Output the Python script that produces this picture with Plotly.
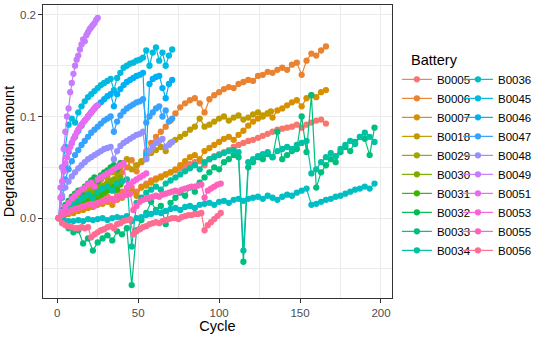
import plotly.graph_objects as go

# ---------------- data ----------------
batteries = ["B0005", "B0006", "B0007", "B0018", "B0029", "B0030", "B0031", "B0032",
             "B0033", "B0034", "B0036", "B0045", "B0046", "B0047", "B0048", "B0049",
             "B0051", "B0053", "B0055", "B0056"]

colors = ["#F8766D", "#EA8331", "#D89000", "#C09B00", "#A3A500", "#7CAE00", "#39B600",
          "#00BB4E", "#00BF7D", "#00C1A3", "#00BFC4", "#00BAE0", "#00B0F6", "#35A2FF",
          "#9590FF", "#C77CFF", "#E76BF3", "#FA62DB", "#FF62BC", "#FF6C91"]

cyc_168 = list(range(1, 167, 3))
cyc_132 = list(range(1, 131, 3)) + [132]
cyc_40 = list(range(1, 40, 2))
cyc_197 = list(range(1, 197, 3))
cyc_72 = list(range(1, 72, 2))
cyc_25 = list(range(1, 26))
cyc_56 = list(range(1, 56, 2))
cyc_102 = list(range(1, 102, 2))

b0005 = [0.000, 0.003, 0.006, 0.009, 0.011, 0.013, 0.015, 0.016, 0.018, 0.020, 0.021, 0.019,
         0.024, 0.026, 0.028, 0.030, 0.026, 0.031, 0.034, 0.037, 0.039, 0.041, 0.043, 0.045,
         0.047, 0.049, 0.051, 0.053, 0.055, 0.056, 0.052, 0.058, 0.061, 0.063, 0.065, 0.067,
         0.070, 0.072, 0.074, 0.076, 0.077, 0.079, 0.081, 0.083, 0.085, 0.087, 0.088, 0.089,
         0.090, 0.092, 0.089, 0.092, 0.094, 0.096, 0.097, 0.093]
b0006 = [0.000, 0.006, 0.011, 0.015, 0.018, 0.021, 0.024, 0.027, 0.029, 0.032, 0.035, 0.031,
         0.040, 0.045, 0.050, 0.057, 0.046, 0.055, 0.066, 0.074, 0.080, 0.085, 0.090, 0.096,
         0.103, 0.109, 0.113, 0.116, 0.118, 0.113, 0.104, 0.117, 0.121, 0.124, 0.127, 0.129,
         0.128, 0.132, 0.134, 0.136, 0.135, 0.140, 0.141, 0.144, 0.143, 0.146, 0.148, 0.146,
         0.151, 0.153, 0.141, 0.155, 0.162, 0.160, 0.165, 0.169]
b0007 = [0.000, 0.002, 0.004, 0.005, 0.007, 0.008, 0.010, 0.011, 0.013, 0.014, 0.016, 0.013,
         0.018, 0.020, 0.023, 0.026, 0.022, 0.030, 0.032, 0.035, 0.038, 0.040, 0.043, 0.045,
         0.048, 0.052, 0.056, 0.060, 0.062, 0.058, 0.066, 0.069, 0.072, 0.075, 0.078, 0.080,
         0.077, 0.082, 0.086, 0.091, 0.095, 0.098, 0.101, 0.103, 0.099, 0.106, 0.108, 0.111,
         0.114, 0.116, 0.110, 0.118, 0.121, 0.119, 0.124, 0.126]
b0018 = [0.000, 0.006, 0.011, 0.015, 0.019, 0.024, 0.028, 0.031, 0.034, 0.030, 0.040, 0.045,
         0.050, 0.054, 0.058, 0.048, 0.052, 0.056, 0.060, 0.064, 0.067, 0.070, 0.066, 0.074,
         0.077, 0.080, 0.083, 0.087, 0.090, 0.098, 0.090, 0.092, 0.095, 0.098, 0.100, 0.096,
         0.099, 0.101, 0.097, 0.099, 0.102, 0.104, 0.100, 0.103, 0.105]
b0029 = [0.000, 0.006, 0.010, 0.014, 0.017, 0.020, 0.023, 0.021, 0.027, 0.030, 0.033, 0.035,
         0.032, 0.038, 0.041, 0.043, 0.046, 0.048, 0.044, 0.050]
b0030 = [0.000, 0.004, 0.007, 0.010, 0.012, 0.014, 0.017, 0.015, 0.020, 0.022, 0.025, 0.027,
         0.024, 0.030, 0.032, 0.034, 0.036, 0.038, 0.035, 0.040]
b0031 = [0.000, 0.003, 0.005, 0.007, 0.009, 0.011, 0.013, 0.011, 0.015, 0.017, 0.019, 0.021,
         0.018, 0.023, 0.025, 0.027, 0.029, 0.031, 0.028, 0.033]
b0032 = [0.000, 0.008, 0.013, 0.017, 0.021, 0.024, 0.027, 0.024, 0.031, 0.034, 0.037, 0.040,
         0.036, 0.042, 0.045, 0.047, 0.050, 0.052, 0.048, 0.054]
b0033 = [0.000, -0.005, -0.010, -0.014, -0.012, -0.025, -0.020, -0.032, -0.024, -0.020, -0.017,
         -0.022, -0.013, -0.016, -0.010, -0.066, -0.012, -0.002, 0.005, 0.016, 0.008, 0.012,
         -0.006, 0.015, 0.020, 0.025, 0.022, 0.030, 0.026, 0.035, 0.040, 0.045, 0.050, 0.048,
         0.055, 0.058, 0.062, 0.060, -0.043, 0.050, 0.055, 0.060, 0.058, 0.063, 0.060, 0.085,
         0.058, 0.062, 0.066, 0.068, 0.100, 0.065, 0.121, 0.030, 0.045, 0.052, 0.058, 0.055,
         0.065, 0.070, 0.066, 0.075, 0.080, 0.078, 0.062, 0.089]
b0034 = [0.000, 0.005, 0.009, 0.013, 0.017, 0.020, 0.023, 0.020, 0.026, 0.029, 0.031, 0.027,
         0.034, 0.036, 0.038, -0.028, 0.015, 0.020, 0.025, 0.028, 0.031, 0.028, 0.034, 0.037,
         0.040, 0.043, 0.046, 0.049, 0.052, 0.048, 0.055, 0.058, 0.060, 0.062, 0.064, 0.066,
         0.067, 0.065, -0.032, 0.055, 0.058, 0.061, 0.063, 0.065, 0.060, 0.066, 0.068, 0.070,
         0.068, 0.072, 0.074, 0.076, 0.044, 0.048, 0.055, 0.060, 0.064, 0.061, 0.068, 0.072,
         0.076, 0.073, 0.080, 0.084, 0.080, 0.075]
b0036 = [0.000, -0.002, -0.003, -0.003, -0.002, -0.003, -0.001, -0.002, -0.001, 0.000, -0.002,
         0.000, 0.001, 0.000, 0.002, -0.003, 0.000, 0.001, 0.003, 0.004, 0.006, 0.005, 0.007,
         0.009, 0.010, 0.008, 0.011, 0.012, 0.010, 0.013, 0.014, 0.015, 0.013, 0.016, 0.017,
         0.015, 0.018, 0.019, 0.017, 0.019, 0.020, 0.021, 0.019, 0.022, 0.020, 0.018, 0.021,
         0.023, 0.022, 0.025, 0.027, 0.029, 0.013, 0.014, 0.016, 0.018, 0.019, 0.021, 0.022,
         0.024, 0.026, 0.028, 0.029, 0.031, 0.029, 0.034]
b0045 = [0.000, 0.050, 0.070, 0.092, 0.098, 0.094, 0.104, 0.110, 0.115, 0.119, 0.122, 0.125,
         0.128, 0.131, 0.133, 0.135, 0.137, 0.126, 0.138, 0.143, 0.148, 0.150, 0.152, 0.153,
         0.155, 0.156, 0.158, 0.165, 0.150, 0.163, 0.168, 0.155, 0.163, 0.150, 0.160, 0.166]
b0046 = [0.000, 0.030, 0.052, 0.065, 0.074, 0.080, 0.086, 0.091, 0.096, 0.100, 0.104, 0.108,
         0.111, 0.114, 0.117, 0.120, 0.122, 0.110, 0.122, 0.127, 0.131, 0.134, 0.136, 0.138,
         0.140, 0.141, 0.143, 0.063, 0.132, 0.137, 0.139, 0.140, 0.128, 0.118, 0.132, 0.136]
b0047 = [0.000, 0.020, 0.038, 0.048, 0.056, 0.062, 0.067, 0.072, 0.076, 0.080, 0.084, 0.087,
         0.090, 0.093, 0.096, 0.098, 0.100, 0.085, 0.095, 0.101, 0.105, 0.108, 0.110, 0.112,
         0.114, 0.115, 0.117, 0.094, 0.100, 0.104, 0.108, 0.110, 0.100, 0.106, 0.095, 0.098]
b0048 = [0.000, 0.022, 0.030, 0.036, 0.041, 0.045, 0.049, 0.052, 0.055, 0.058, 0.060, 0.062,
         0.064, 0.066, 0.068, 0.069, 0.070, 0.058, 0.066, 0.071, 0.074, 0.076, 0.078, 0.080,
         0.082, 0.083, 0.085, 0.058, 0.066, 0.070, 0.074, 0.076, 0.078, 0.070, 0.072, 0.075]
b0049 = [0.000, 0.030, 0.050, 0.068, 0.085, 0.100, 0.108, 0.124, 0.133, 0.142, 0.150, 0.156,
         0.160, 0.166, 0.171, 0.176, 0.174, 0.180, 0.183, 0.186, 0.188, 0.190, 0.192, 0.195,
         0.197]
b0051 = [0.000, 0.020, 0.036, 0.046, 0.054, 0.060, 0.065, 0.070, 0.074, 0.078, 0.081, 0.084,
         0.087, 0.090, 0.092, 0.094, 0.096, 0.098, 0.100, 0.102, 0.104, 0.106, 0.108, 0.110,
         0.111]
b0053 = [0.000, 0.006, 0.011, 0.015, 0.019, 0.022, 0.025, 0.028, 0.030, 0.033, 0.035, 0.031,
         0.038, 0.040, 0.042, 0.044, 0.046, 0.048, 0.050, 0.052, 0.054, 0.030, 0.033, 0.036,
         0.038, 0.040, 0.042, 0.044]
b0055 = [0.000, 0.003, 0.005, 0.006, 0.008, 0.009, 0.010, 0.011, 0.012, 0.013, 0.014, 0.012,
         0.015, 0.016, 0.017, 0.018, 0.019, 0.017, 0.020, 0.021, 0.022, 0.023, 0.024, 0.008,
         0.012, 0.016, 0.018, 0.019, 0.020, 0.021, 0.022, 0.021, 0.023, 0.024, 0.025, 0.026,
         0.027, 0.026, 0.028, 0.029, 0.030, 0.031, 0.031, 0.032, 0.033, 0.020, 0.027, 0.029,
         0.031, 0.033, 0.034]
b0056 = [0.000, -0.005, -0.007, -0.008, -0.009, -0.010, -0.010, -0.009, -0.010, -0.009, -0.019,
         -0.016, -0.014, -0.012, -0.011, -0.009, -0.008, -0.010, -0.006, -0.005, -0.003, -0.002,
         -0.001, -0.016, -0.013, -0.011, -0.009, -0.008, -0.006, -0.005, -0.004, -0.005, -0.003,
         -0.002, -0.001, 0.000, 0.000, -0.001, 0.001, 0.002, 0.003, 0.003, 0.004, 0.004, 0.005,
         -0.012, -0.007, -0.004, -0.001, 0.002, 0.005]

series_cycles = [cyc_168, cyc_168, cyc_168, cyc_132, cyc_40, cyc_40, cyc_40, cyc_40,
                 cyc_197, cyc_197, cyc_197, cyc_72, cyc_72, cyc_72, cyc_72, cyc_25,
                 cyc_25, cyc_56, cyc_102, cyc_102]
series_values = [b0005, b0006, b0007, b0018, b0029, b0030, b0031, b0032,
                 b0033, b0034, b0036, b0045, b0046, b0047, b0048, b0049,
                 b0051, b0053, b0055, b0056]

x_ticks = [0, 50, 100, 150, 200]
y_ticks = [0.0, 0.1, 0.2]
y_tick_labels = ["0.0", "0.1", "0.2"]

# ---------------- figure ----------------
FONT = "Liberation Sans, Arial, Helvetica, sans-serif"
fig = go.Figure()
for i, (name, xs, ys, col) in enumerate(zip(batteries, series_cycles, series_values, colors)):
    fig.add_trace(go.Scatter(
        x=xs, y=ys, name=name, mode="lines+markers",
        line=dict(color=col, width=1.2),
        marker=dict(color=col, size=6.3),
        legend="legend" if i < 10 else "legend2",
    ))

grid_major = "#EBEBEB"
fig.update_layout(
    width=540, height=337,
    margin=dict(l=43, r=148, t=5, b=39, autoexpand=False),
    paper_bgcolor="white", plot_bgcolor="white",
    font=dict(family=FONT, size=12, color="#000000"),
    showlegend=True,
    legend=dict(
        title=dict(text="\u00a0\u00a0\u00a0Battery", font=dict(size=14.5, color="#000000")),
        x=1.014, y=0.860, xanchor="left", yanchor="top",
        font=dict(size=11.5, color="#000000"),
        bgcolor="rgba(0,0,0,0)", itemwidth=30, tracegroupgap=0,
    ),
    legend2=dict(
        title=dict(text=" ", font=dict(size=14.5)),
        x=1.189, y=0.860, xanchor="left", yanchor="top",
        font=dict(size=11.5, color="#000000"),
        bgcolor="rgba(0,0,0,0)", itemwidth=30, tracegroupgap=0,
    ),
)
fig.update_xaxes(
    range=[-8.8, 206.8], tickvals=x_ticks, ticktext=[str(v) for v in x_ticks],
    automargin=False,
    showgrid=True, gridcolor=grid_major, gridwidth=1.1,
    minor=dict(dtick=25, tick0=0, showgrid=True, gridcolor=grid_major, gridwidth=0.55, ticks=""),
    zeroline=False, showline=True, linecolor="#333333", linewidth=1, mirror=True,
    ticks="outside", ticklen=3.7, tickcolor="#333333", tickwidth=1,
    tickfont=dict(size=11.5, color="#4D4D4D"),
    title=dict(text="Cycle", font=dict(size=14.5, color="#000000"), standoff=3),
)
fig.update_yaxes(
    range=[-0.0787, 0.2098], tickvals=y_ticks, ticktext=y_tick_labels,
    automargin=False,
    showgrid=True, gridcolor=grid_major, gridwidth=1.1,
    minor=dict(dtick=0.05, tick0=0, showgrid=True, gridcolor=grid_major, gridwidth=0.55, ticks=""),
    zeroline=False, showline=True, linecolor="#333333", linewidth=1, mirror=True,
    ticks="outside", ticklen=3.7, tickcolor="#333333", tickwidth=1,
    tickfont=dict(size=11.5, color="#4D4D4D"),
    title=dict(text="Degradation amount", font=dict(size=14.5, color="#000000"), standoff=1),
)

fig.write_html("out.html", config={"displayModeBar": False},
               post_script="document.body.style.margin='0';")
